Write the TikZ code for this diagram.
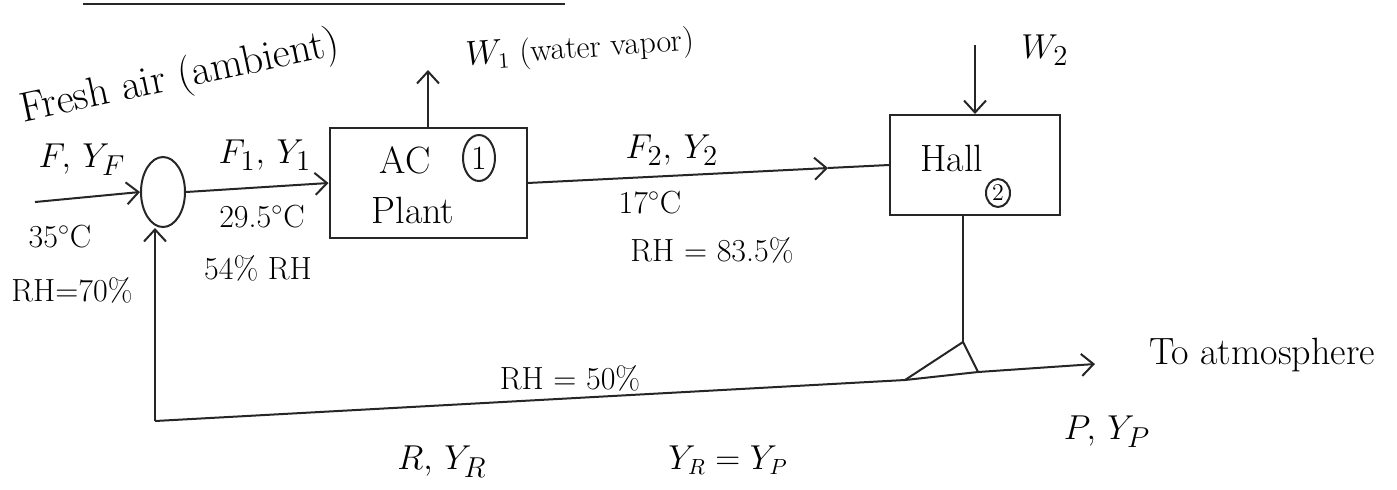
\documentclass[tikz,border=0pt]{standalone}
\usetikzlibrary{arrows.meta,shapes.geometric}
\begin{document}
\begin{tikzpicture}[x=0.5pt,y=-0.5pt,
  ln/.style={line width=1pt,draw=black!85},
  arr/.style={ln,-{Straight Barb[length=6pt,width=11pt]}},
  unit/.style={ln,draw,rectangle,inner sep=0pt},
  lbl/.style={font=\fontsize{16}{19}\selectfont,inner sep=1pt},
  big/.style={font=\fontsize{19}{22}\selectfont,inner sep=1pt},
  circ/.style={ln,draw,ellipse,inner sep=0pt}]
\useasboundingbox (0,0) rectangle (1397,489);
% heading underline
\coordinate (u1) at (83,4); \coordinate (u2) at (565,4);
\draw[ln] (u1) -- (u2);
% units
\node[circ,minimum width=22pt,minimum height=35pt] (mix) at (163,192) {};
\node[unit,minimum width=98.5pt,minimum height=55pt] (ac) at (428,183) {};
\node[unit,minimum width=85pt,minimum height=50pt] (hall) at (975,165) {};
% splitter
\coordinate (sa) at (963,342);
\coordinate (sb) at (905,380);
\coordinate (sc) at (978,372);
\draw[ln] (sb) -- (sa) -- (sc);
% streams
\coordinate (fin) at (35,202);
\draw[arr] (fin) -- (mix.west);
\draw[arr] (mix.east) -- (ac.west);
\coordinate (w1) at (428,70);
\draw[arr] (ac.north) -- (w1);
\coordinate (m2) at (828,168);
\draw[arr] (ac.east) -- (m2);
\draw[ln] (m2) -- (hall.west);
\coordinate (w2) at (975,45);
\draw[arr] (w2) -- (hall.north);
\draw[ln] (hall.south -| sa) -- (sa);
\coordinate (rc) at (155,421);
\coordinate (pend) at (1095,364);
\draw[arr] (rc) -- (sb) -- (sc) -- (pend);
\draw[arr] (rc) -- (rc |- mix.south);
% texts
\node[big,rotate=12,font=\fontsize{21}{24}\selectfont] (tfresh) at (180,78) {Fresh air (ambient)};
\node[big] (tF) at (82,160) {$F,\,Y_F$};
\node[lbl] (t35) at (60,237) {35$^\circ$C};
\node[lbl] (trh70) at (72,290) {RH=70\%};
\node[big] (tF1) at (265,155) {$F_1,\,Y_1$};
\node[lbl] (t295) at (262,217) {29.5$^\circ$C};
\node[lbl] (t54) at (258,268) {54\% RH};
\node[big] (tac) at (405,160) {AC};
\node[circ,minimum width=16pt,minimum height=23pt,font=\fontsize{17}{19}\selectfont] (c1) at (479,158) {1};
\node[big] (tplant) at (413,210) {Plant};
\node[lbl,rotate=4] (tw1) at (580,50) {$W_1$ (water vapor)};
\node[big] (tF2) at (672,150) {$F_2,\,Y_2$};
\node[lbl] (t17) at (650,203) {17$^\circ$C};
\node[lbl] (trh835) at (712,250) {RH = 83.5\%};
\node[big] (thall) at (952,158) {Hall};
\node[circ,minimum width=12pt,minimum height=14pt,font=\fontsize{12}{14}\selectfont] (c2) at (998,193) {2};
\node[big] (tw2) at (1045,50) {$W_2$};
\node[lbl] (trh50) at (570,378) {RH = 50\%};
\node[big] (tatm) at (1262,355) {To atmosphere};
\node[big] (tR) at (442,462) {$R,\,Y_R$};
\node[lbl] (tyr) at (728,460) {$Y_R = Y_P$};
\node[big] (tP) at (1107,432) {$P,\,Y_P$};
\end{tikzpicture}
\end{document}
